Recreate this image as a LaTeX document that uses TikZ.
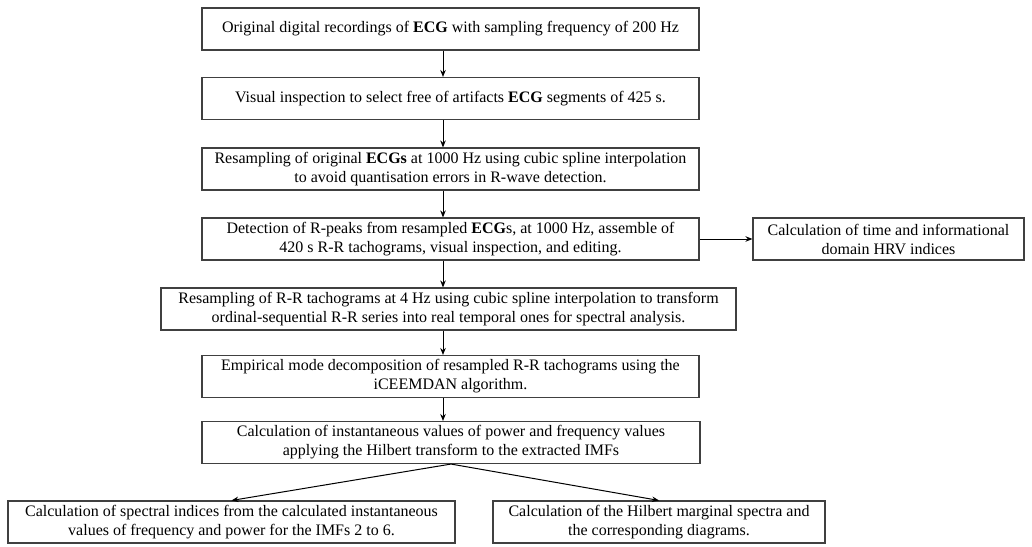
\documentclass[tikz,border=0pt]{standalone}
\usepackage{fontspec}
\setmainfont{Liberation Serif}
\usetikzlibrary{arrows.meta, positioning}
\definecolor{BoxGray}{rgb}{0.25, 0.25, 0.25}

\begin{document}
\begin{tikzpicture}[>={Stealth[length=7pt, width=5.5pt]}, x=1pt, y=-1pt,
        stepbox/.style={draw=BoxGray, line width=1.1pt, align=center, inner sep=2pt,
            minimum height=42pt, font=\fontsize{16}{19}\selectfont},
        flow/.style={->, line width=1pt}]
        \useasboundingbox (0,0) rectangle (1032,546);

        % Main column
        \node[stepbox, minimum width=497pt] (orig) at (450.5,29)
            {Original digital recordings of \textbf{ECG} with sampling frequency of 200 Hz};
        \node[stepbox, minimum width=497pt] (inspect) at (450.5,98.5)
            {Visual inspection to select free of artifacts \textbf{ECG} segments of 425 s.};
        \node[stepbox, minimum width=497pt] (resample) at (450.5,169)
            {Resampling of original \textbf{ECGs} at 1000 Hz using cubic spline interpolation\\
             to avoid quantisation errors in R-wave detection.};
        \node[stepbox, minimum width=497pt] (rpeaks) at (450.5,239)
            {Detection of R-peaks from resampled \textbf{ECG}s, at 1000 Hz, assemble of\\
             420 s R-R tachograms, visual inspection, and editing.};
        \node[stepbox, minimum width=575pt] (tacho) at (448.5,309)
            {Resampling of R-R tachograms at 4 Hz using cubic spline interpolation to transform\\
             ordinal-sequential R-R series into real temporal ones for spectral analysis.};
        \node[stepbox, minimum width=497pt] (emd) at (450.5,376.5)
            {Empirical mode decomposition of resampled R-R tachograms using the\\
             iCEEMDAN algorithm.};
        \node[stepbox, minimum width=498pt] (hilbert) at (451,442.5)
            {Calculation of instantaneous values of power and frequency values\\
             applying the Hilbert transform to the extracted IMFs};

        % Side and bottom boxes
        \node[stepbox, minimum width=271pt] (hrv) at (888.5,239)
            {Calculation of time and informational\\ domain HRV indices};
        \node[stepbox, minimum width=447pt] (spectral) at (231.5,522)
            {Calculation of spectral indices from the calculated instantaneous\\
             values of frequency and power for the IMFs 2 to 6.};
        \node[stepbox, minimum width=332pt] (marginal) at (659,522)
            {Calculation of the Hilbert marginal spectra and\\ the corresponding diagrams.};

        % Arrows
        \coordinate (spine) at (443,0);
        \foreach \a/\b in {orig/inspect, inspect/resample, resample/rpeaks,
                rpeaks/tacho, tacho/emd, emd/hilbert} {
            \draw[flow] (\a.south -| spine) -- (\b.north -| spine);
        }
        \draw[flow] (rpeaks.east) -- (hrv.west);
        \draw[flow] (hilbert.south) -- (spectral.north);
        \draw[flow] (hilbert.south) -- (marginal.north);
    \end{tikzpicture}
\end{document}
